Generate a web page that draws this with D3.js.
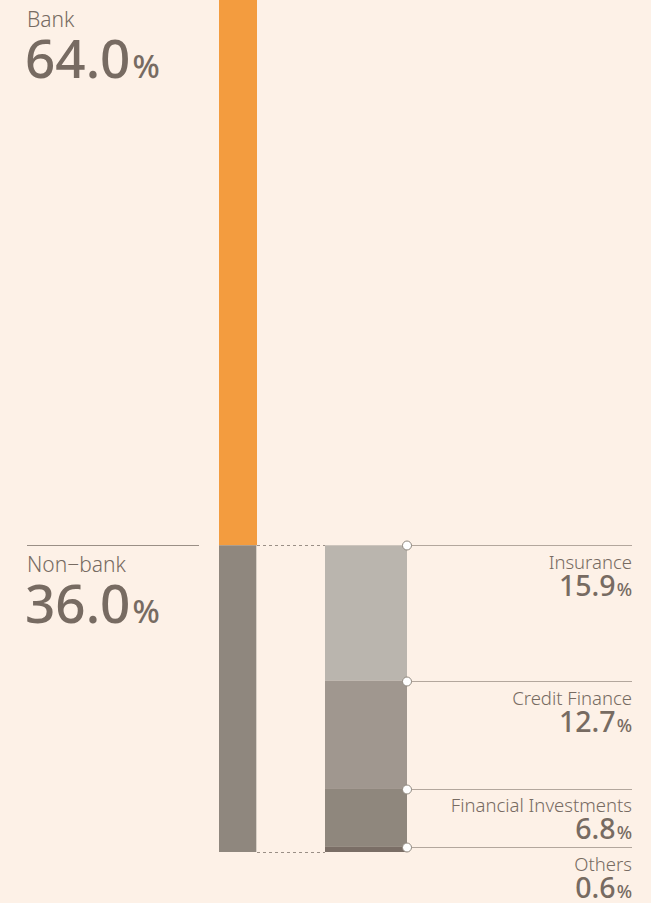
<!DOCTYPE html>
<html>
<head>
<meta charset="utf-8">
<script src="https://cdn.jsdelivr.net/npm/d3@7"></script>
<style>
  html, body { margin: 0; padding: 0; background: #fdf1e7; }
  svg { display: block; }
  text { font-family: "Noto Sans", "Open Sans", sans-serif; fill: #776b62; }
</style>
</head>
<body>
<svg id="chart" width="651" height="903"></svg>
<script>
// Top-level split of the portfolio
const mainCategories = ["Bank", "Non-bank"];
const mainValues = [64.0, 36.0];
const mainColors = ["#f39c3f", "#8f877e"];

// Breakdown of the non-bank share
const subCategories = ["Insurance", "Credit Finance", "Financial Investments", "Others"];
const subValues = [15.9, 12.7, 6.8, 0.6];
const subColors = ["#bab5ae", "#a0978f", "#8f877d", "#7a6e66"];

const svg = d3.select("#chart");
const W = 651, H = 903;

const y = d3.scaleLinear().domain([0, 100]).range([0, 852]);

const mainX = 219, mainW = 38;
const subX = 325, subW = 82;
const lineEnd = 632;
const ruleColor = "#b3a79d";

// stacked positions for main bar
let acc = 0;
const mainStack = mainValues.map((v, i) => {
  const s = { name: mainCategories[i], value: v, y0: acc, y1: acc + v, color: mainColors[i] };
  acc += v;
  return s;
});

// breakdown stacked from the start of the non-bank block
const nonBankStart = mainStack[1].y0;
acc = nonBankStart;
const subStack = subValues.map((v, i) => {
  const s = { name: subCategories[i], value: v, y0: acc, y1: acc + v, color: subColors[i] };
  acc += v;
  return s;
});

// main bar
svg.selectAll("rect.main").data(mainStack).enter().append("rect")
  .attr("x", mainX).attr("width", mainW)
  .attr("y", d => y(d.y0)).attr("height", d => y(d.y1) - y(d.y0))
  .attr("fill", d => d.color);

// light edge on the right of the non-bank block
svg.append("line")
  .attr("x1", mainX + mainW - 0.5).attr("x2", mainX + mainW - 0.5)
  .attr("y1", y(mainStack[1].y0)).attr("y2", y(mainStack[1].y1))
  .attr("stroke", "#d9d0c6").attr("stroke-width", 1);

// dotted connectors from non-bank block to the breakdown bar
[mainStack[1].y0, mainStack[1].y1].forEach(v => {
  svg.append("line")
    .attr("x1", mainX + mainW).attr("x2", subX)
    .attr("y1", Math.round(y(v)) + 0.5).attr("y2", Math.round(y(v)) + 0.5)
    .attr("stroke", "#9a8f86").attr("stroke-width", 1)
    .attr("stroke-dasharray", "3,3");
});

// breakdown bar
svg.selectAll("rect.sub").data(subStack).enter().append("rect")
  .attr("x", subX).attr("width", subW)
  .attr("y", d => y(d.y0)).attr("height", d => y(d.y1) - y(d.y0))
  .attr("fill", d => d.color);

// left rule above the non-bank label
svg.append("line")
  .attr("x1", 27).attr("x2", 199)
  .attr("y1", Math.round(y(mainStack[1].y0)) + 0.5).attr("y2", Math.round(y(mainStack[1].y0)) + 0.5)
  .attr("stroke", "#9a8f86").attr("stroke-width", 1);

// left labels
mainStack.forEach(d => {
  const top = y(d.y0);
  const g = svg.append("g");
  g.append("text").attr("x", 27).attr("y", top + 27)
    .attr("font-size", 21).attr("font-weight", 300)
    .text(d.name === "Non-bank" ? "Non\u2212bank" : d.name);
  const t = g.append("text").attr("x", 25).attr("y", top + 78)
    .attr("font-size", 53).attr("font-weight", 500);
  t.append("tspan").text(d.value.toFixed(1));
  t.append("tspan").attr("font-size", 32).attr("dx", 2).text("%");
});

// right leader lines, markers and labels
subStack.forEach((d, i) => {
  const ly = Math.round(y(d.y0)) + 0.5;
  const next = i < subStack.length - 1 ? Math.round(y(subStack[i + 1].y0)) : H + 20;
  svg.append("line")
    .attr("x1", subX + subW).attr("x2", lineEnd)
    .attr("y1", ly).attr("y2", ly)
    .attr("stroke", ruleColor).attr("stroke-width", 1);
  // value baseline sits below the rule, but stays clear of the next rule
  const valueBase = Math.min(ly + 50.5, next - 8);
  const nameBase = valueBase - 27.5;
  svg.append("text").attr("x", lineEnd).attr("y", nameBase)
    .attr("text-anchor", "end").attr("font-size", 18.5).attr("font-weight", 300)
    .text(d.name);
  const t = svg.append("text").attr("x", lineEnd).attr("y", valueBase)
    .attr("text-anchor", "end").attr("font-size", 28.5).attr("font-weight", 500);
  t.append("tspan").text(d.value.toFixed(1));
  t.append("tspan").attr("font-size", 18).attr("dx", 1).text("%");
});

// markers drawn last so they sit above rules and bars
svg.selectAll("circle.mark").data(subStack).enter().append("circle")
  .attr("cx", subX + subW).attr("cy", d => Math.round(y(d.y0)) + 0.5)
  .attr("r", 4.5)
  .attr("fill", "#ffffff").attr("stroke", "#8f877d").attr("stroke-width", 1);
</script>
</body>
</html>
